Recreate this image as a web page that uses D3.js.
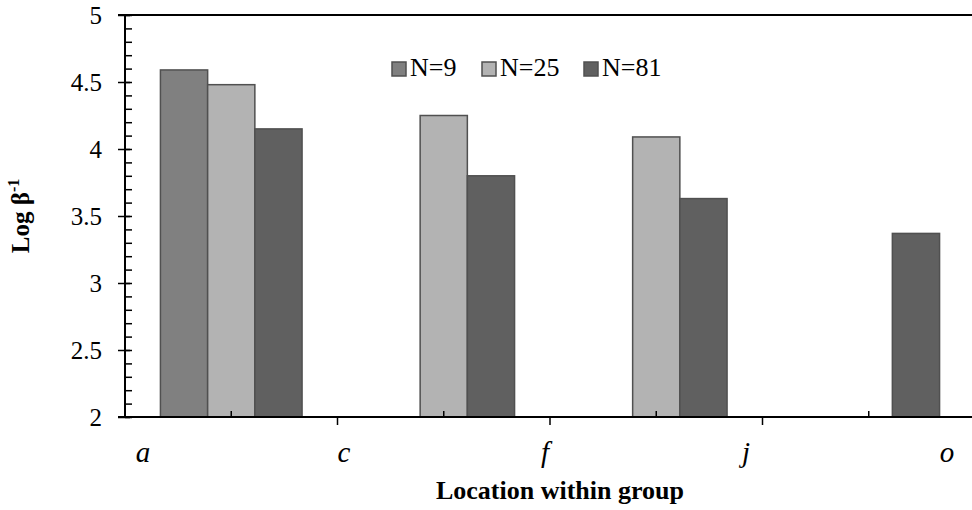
<!DOCTYPE html>
<meta charset="utf-8">
<script src="https://d3js.org/d3.v7.min.js"></script>
<style>
  body { margin: 0; background: #fff; }
  svg { display: block; font-family: "Liberation Serif", "Times New Roman", serif; }
</style>
<div id="chart"></div>
<script>

  // data
  var groups = ["g1", "g2", "g3", "g4"];
  var seriesNames = ["N=9", "N=25", "N=81"];
  var seriesColors = ["#808080", "#b3b3b3", "#606060"];
  var n9 = [4.59, null, null, null];
  var n25 = [4.48, 4.25, 4.09, null];
  var n81 = [4.15, 3.80, 3.63, 3.37];
  var locationLabels = ["a", "c", "f", "j", "o"];
  var yTicks = [2, 2.5, 3, 3.5, 4, 4.5, 5];

  var W = 972, H = 510;
  var plotLeft = 125, plotRight = 975, plotTop = 15, plotBottom = 417;
  var serif = "'Liberation Serif', 'Times New Roman', serif";

  var svg = d3.select("#chart").append("svg")
    .attr("width", W)
    .attr("height", H);

  var y = d3.scaleLinear().domain([2, 5]).range([plotBottom, plotTop]);

  // group bands and sub bands for the three series
  var x0 = d3.scaleBand()
    .domain(groups)
    .range([plotLeft, plotRight])
    .paddingInner(0.3335)
    .paddingOuter(0.16675);
  var x1 = d3.scaleBand()
    .domain(seriesNames)
    .range([0, x0.bandwidth()]);

  var rows = [];
  [n9, n25, n81].forEach(function (vals, si) {
    vals.forEach(function (v, gi) {
      if (v != null) rows.push({ g: groups[gi], s: seriesNames[si], c: seriesColors[si], v: v });
    });
  });

  svg.append("g")
    .selectAll("rect")
    .data(rows)
    .enter()
    .append("rect")
    .attr("x", function (d) { return x0(d.g) + x1(d.s); })
    .attr("y", function (d) { return y(d.v); })
    .attr("width", x1.bandwidth())
    .attr("height", function (d) { return y(2) - y(d.v); })
    .style("fill", function (d) { return d.c; })
    .style("stroke", "#505050")
    .style("stroke-width", 1.5);

  // top frame line at 5
  svg.append("line")
    .attr("x1", plotLeft - 7).attr("x2", W)
    .attr("y1", y(5)).attr("y2", y(5))
    .style("stroke", "#000").style("stroke-width", 2);

  // Y axis: minor ticks inside, major ticks crossing
  var minor = d3.range(20, 51).map(function (d) { return d / 10; });
  svg.append("g")
    .attr("transform", "translate(" + plotLeft + ",0)")
    .call(d3.axisRight(y).tickValues(minor).tickSize(7).tickFormat(""))
    .call(function (g) { g.select(".domain").remove(); })
    .selectAll("line").style("stroke", "#000").style("stroke-width", 1.5);

  var yAxis = svg.append("g")
    .attr("transform", "translate(" + (plotLeft + 5) + ",0)")
    .call(d3.axisLeft(y).tickValues(yTicks).tickSize(12).tickSizeOuter(0).tickPadding(16)
      .tickFormat(function (d) { return d; }));
  yAxis.select(".domain").remove();
  yAxis.attr("font-family", serif).attr("font-size", 25);
  yAxis.selectAll("line").style("stroke", "#000").style("stroke-width", 1.5);
  yAxis.selectAll("text")
    .style("font-family", serif)
    .style("font-size", "25px")
    .attr("fill", "#000");

  svg.append("line")
    .attr("x1", plotLeft).attr("x2", plotLeft)
    .attr("y1", plotTop).attr("y2", plotBottom + 1)
    .style("stroke", "#000").style("stroke-width", 2);

  // X axis: ticks between groups (down) and at group centres (up)
  var boundaries = groups.slice(1).map(function (g) { return x0(g) - x0.step() * x0.paddingInner() / 2; });
  svg.append("g").selectAll("line")
    .data(boundaries).enter().append("line")
    .attr("x1", function (d) { return d; }).attr("x2", function (d) { return d; })
    .attr("y1", plotBottom).attr("y2", plotBottom + 8)
    .style("stroke", "#000").style("stroke-width", 1.5);
  svg.append("g").selectAll("line")
    .data(groups).enter().append("line")
    .attr("x1", function (d) { return x0(d) + x0.bandwidth() / 2; })
    .attr("x2", function (d) { return x0(d) + x0.bandwidth() / 2; })
    .attr("y1", plotBottom - 6).attr("y2", plotBottom)
    .style("stroke", "#000").style("stroke-width", 1.5);
  svg.append("line")
    .attr("x1", plotLeft - 7).attr("x2", W)
    .attr("y1", plotBottom).attr("y2", plotBottom)
    .style("stroke", "#000").style("stroke-width", 2);

  // location labels
  var xl = d3.scalePoint().domain(locationLabels).range([143, 947]);
  svg.append("g").selectAll("text")
    .data(locationLabels).enter().append("text")
    .attr("x", function (d) { return xl(d); })
    .attr("y", 462)
    .attr("text-anchor", "middle")
    .style("font-size", "29px")
    .style("font-style", "italic")
    .text(function (d) { return d; });

  // axis titles
  svg.append("text")
    .attr("x", 560)
    .attr("y", 499)
    .attr("text-anchor", "middle")
    .style("font-size", "26px")
    .style("font-weight", "bold")
    .text("Location within group");

  var yt = svg.append("text")
    .attr("transform", "translate(29," + ((plotTop + plotBottom) / 2) + ") rotate(-90)")
    .attr("text-anchor", "middle")
    .style("font-size", "25px")
    .style("font-weight", "bold");
  yt.append("tspan").text("Log β");
  yt.append("tspan").attr("dy", -10).style("font-size", "16px").text("-1");

  // legend
  var legX = [392, 482, 584];
  var leg = svg.append("g").selectAll("g")
    .data(seriesNames).enter().append("g")
    .attr("transform", function (d, i) { return "translate(" + legX[i] + ",62)"; });
  leg.append("rect")
    .attr("width", 14).attr("height", 14)
    .style("fill", function (d, i) { return seriesColors[i]; })
    .style("stroke", "#505050").style("stroke-width", 1.5);
  leg.append("text")
    .attr("x", 18).attr("y", 14)
    .style("font-size", "26px")
    .text(function (d) { return d; });

</script>
